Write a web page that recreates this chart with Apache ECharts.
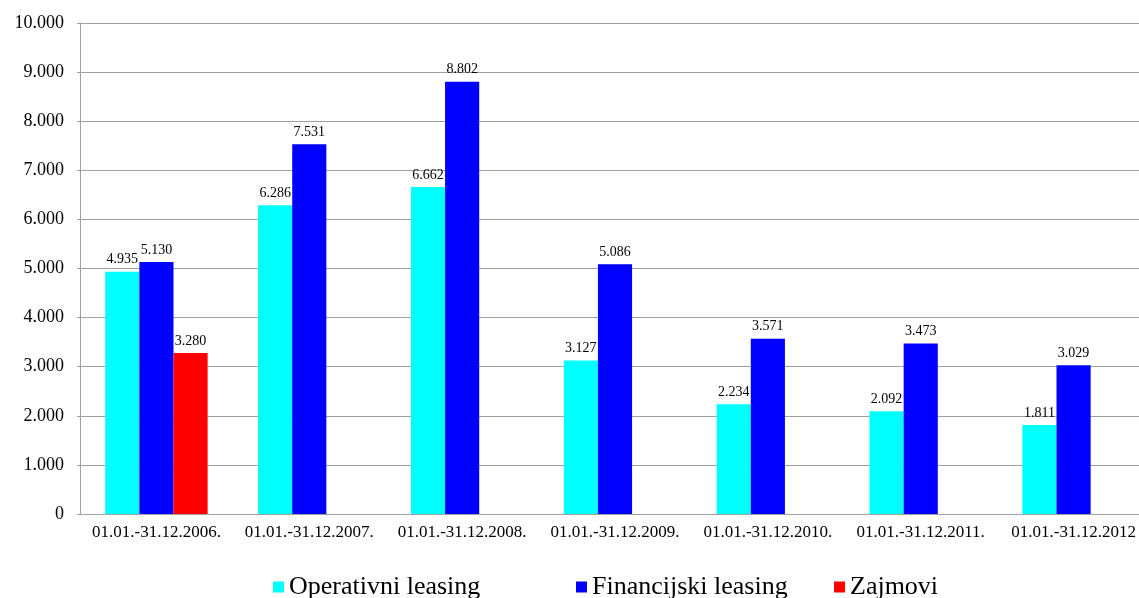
<!DOCTYPE html>
<html>
<head>
<meta charset="utf-8">
<script src="https://cdn.jsdelivr.net/npm/echarts@6/dist/echarts.min.js"></script>
<style>
html,body{margin:0;padding:0;background:#fff;}
#chart{width:1139px;height:598px;}
</style>
</head>
<body>
<div id="chart"></div>
<script>
const categories = ['01.01.-31.12.2006.', '01.01.-31.12.2007.', '01.01.-31.12.2008.', '01.01.-31.12.2009.', '01.01.-31.12.2010.', '01.01.-31.12.2011.', '01.01.-31.12.2012'];
const operativni = [4935, 6286, 6662, 3127, 2234, 2092, 1811];
const financijski = [5130, 7531, 8802, 5086, 3571, 3473, 3029];
const zajmovi = [3280, null, null, null, null, null, null];
const seriesNames = ['Operativni leasing', 'Financijski leasing', 'Zajmovi'];

function fmt(v) {
  return String(Math.round(v)).replace(/\B(?=(\d{3})+(?!\d))/g, '.');
}
const serif = 'Liberation Serif';
const labelCfg = {
  show: true, position: 'top', distance: 5,
  fontFamily: serif, fontSize: 14, color: '#000',
  formatter: p => p.value == null ? '' : fmt(p.value)
};
const legendLefts = [268, 571, 829];
const legends = seriesNames.map((n, i) => ({
  top: 569, left: legendLefts[i],
  itemWidth: 11, itemHeight: 11, itemGap: 0,
  icon: 'rect',
  textStyle: {fontFamily: serif, fontSize: 26, color: '#000'},
  data: [n]
}));
const chart = echarts.init(document.getElementById('chart'), null, {renderer: 'canvas'});
chart.setOption({
  animation: false,
  backgroundColor: '#fff',
  grid: {left: 80, top: 23, right: -11, bottom: 84, containLabel: false, outerBoundsMode: 'none'},
  legend: legends,
  xAxis: {
    type: 'category', data: categories,
    axisLine: {show: true, lineStyle: {color: '#a0a0a0', width: 1}},
    axisTick: {show: false},
    axisLabel: {interval: 0, margin: 10, fontFamily: serif, fontSize: 17, color: '#000'}
  },
  yAxis: {
    type: 'value', min: 0, max: 10000, interval: 1000,
    axisLine: {show: true, lineStyle: {color: '#a0a0a0', width: 1}},
    axisTick: {show: true, length: 3, lineStyle: {color: '#a0a0a0'}},
    splitLine: {show: true, lineStyle: {color: '#a0a0a0', width: 1}},
    axisLabel: {margin: 16, fontFamily: serif, fontSize: 18, color: '#000', formatter: v => fmt(v)}
  },
  series: [
    {name: seriesNames[0], type: 'bar', data: operativni, itemStyle: {color: '#00ffff'}, barGap: '0%', barCategoryGap: '33%', label: labelCfg},
    {name: seriesNames[1], type: 'bar', data: financijski, itemStyle: {color: '#0000ff'}, barGap: '0%', barCategoryGap: '33%', label: labelCfg},
    {name: seriesNames[2], type: 'bar', data: zajmovi, itemStyle: {color: '#ff0000'}, barGap: '0%', barCategoryGap: '33%', label: labelCfg}
  ]
});
</script>
</body>
</html>
